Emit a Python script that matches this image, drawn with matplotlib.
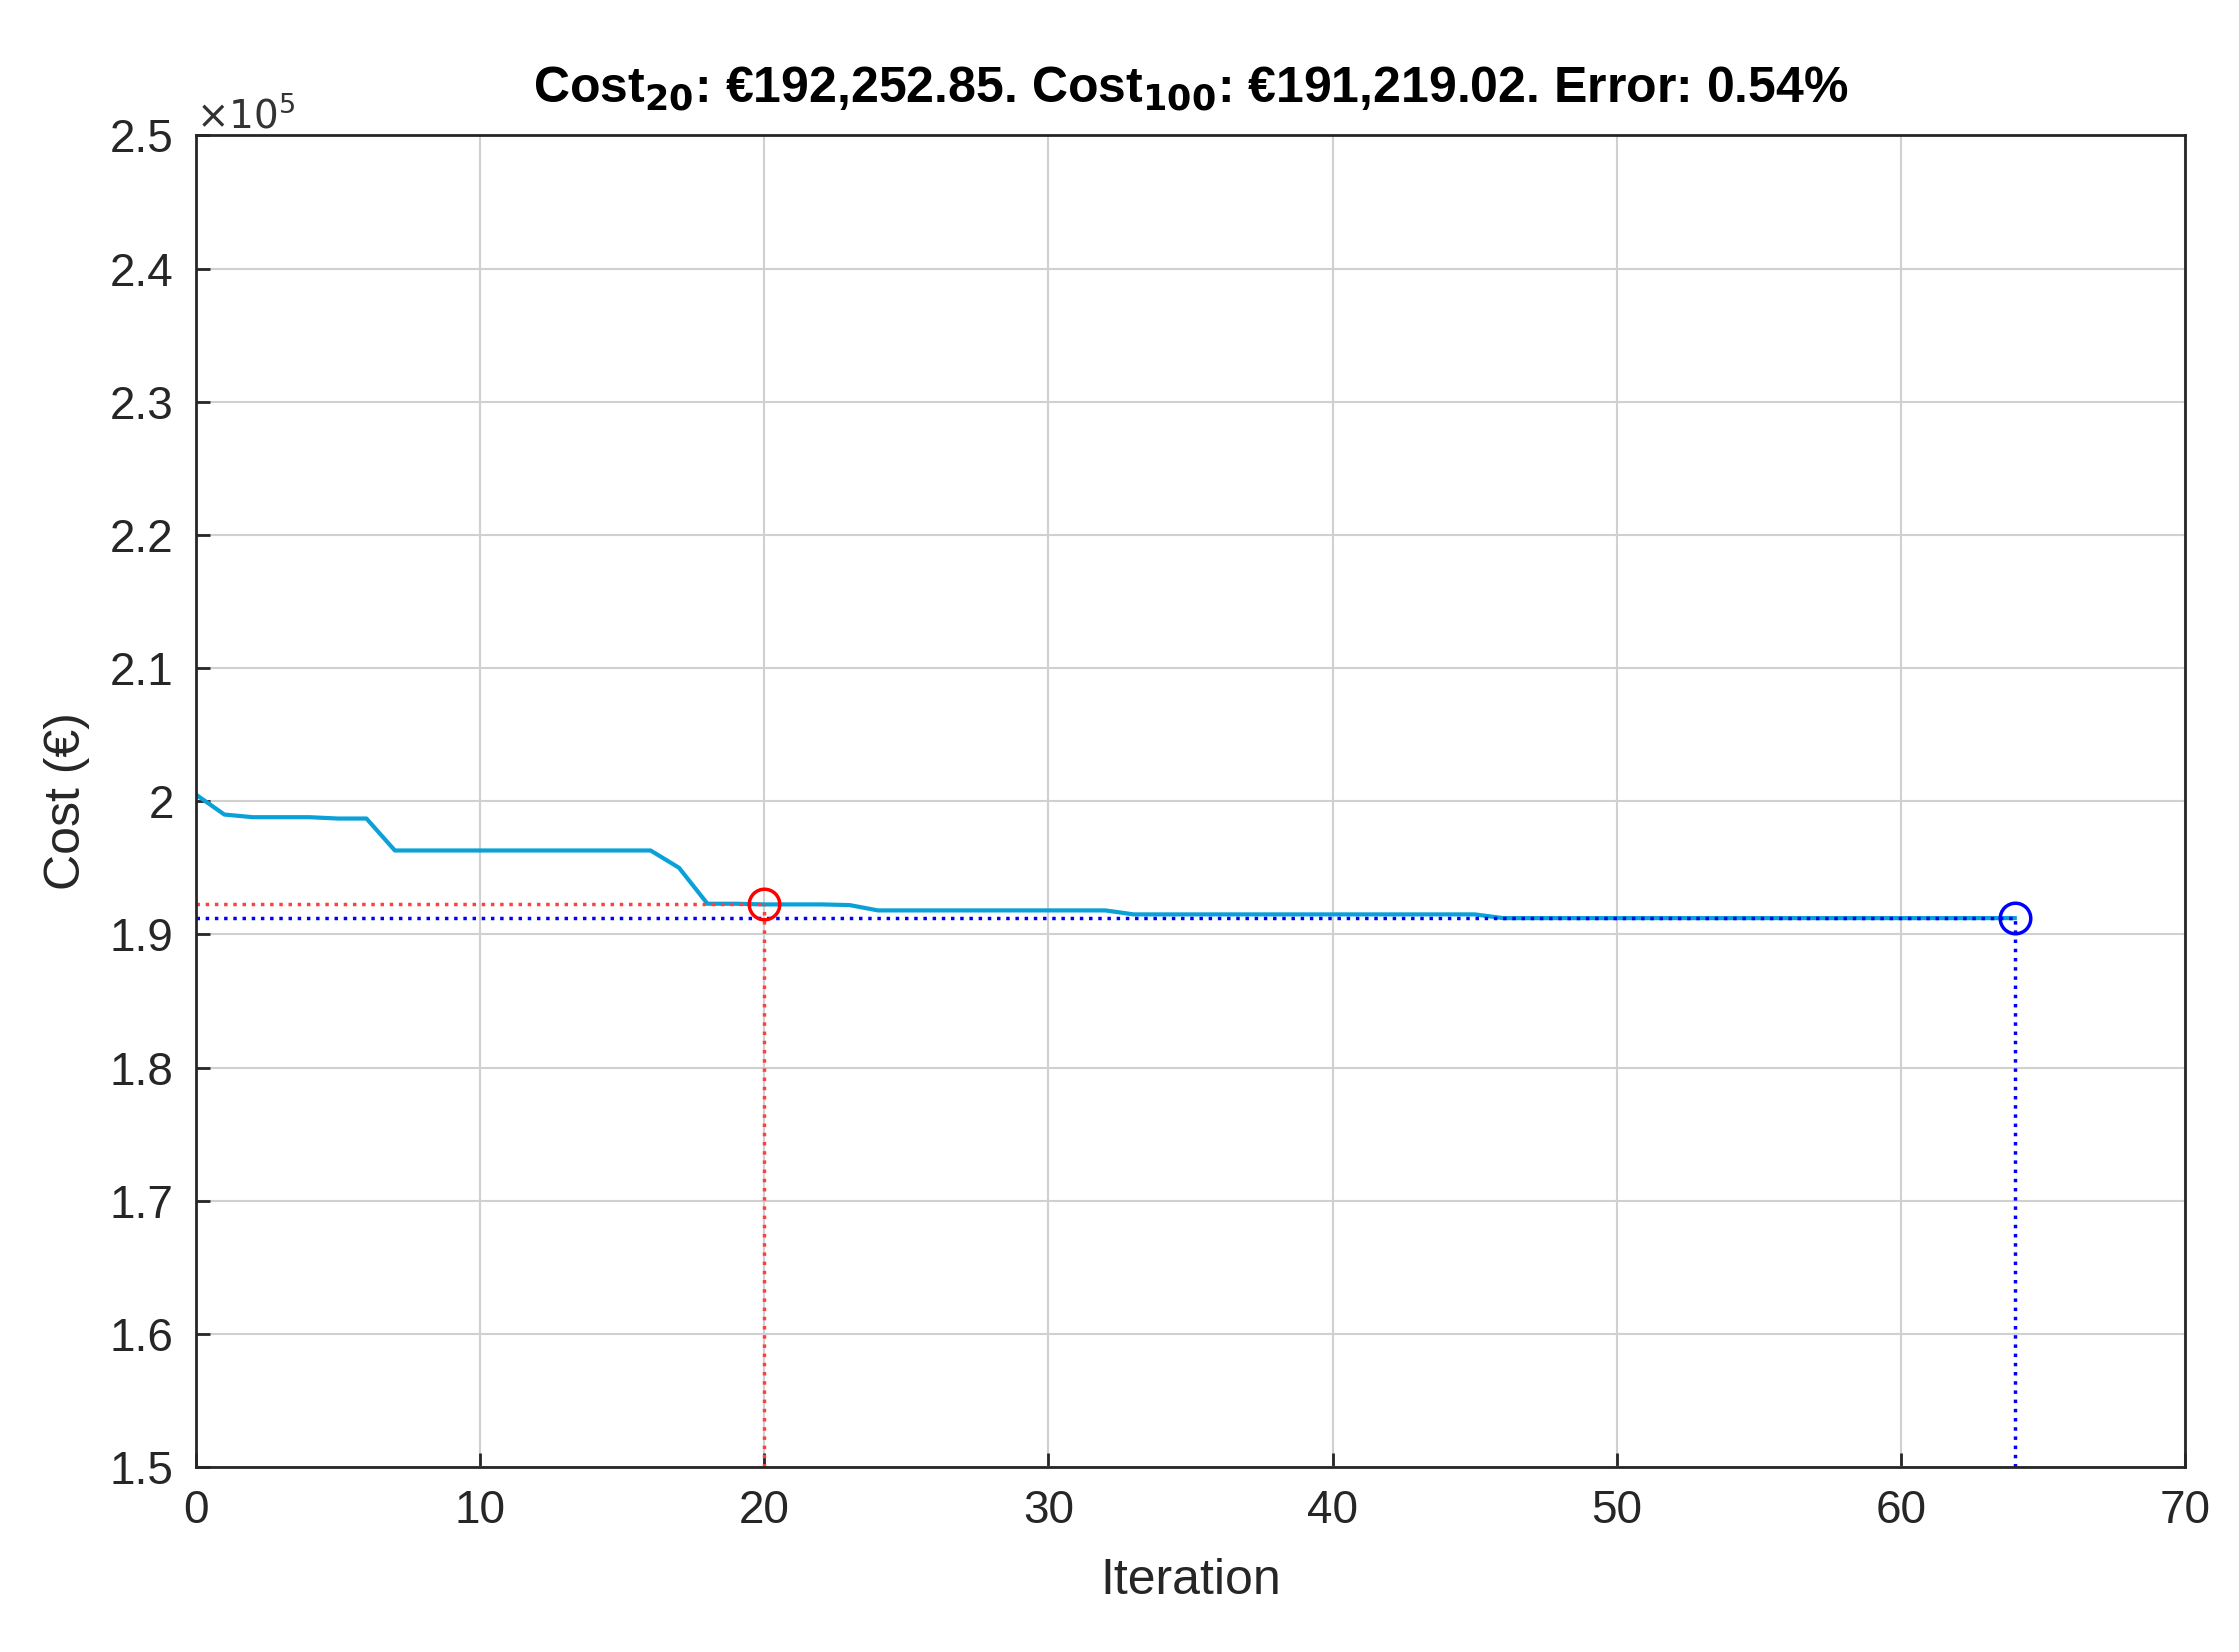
import matplotlib
matplotlib.use("Agg")
import matplotlib.pyplot as plt
import numpy as np

iterations = list(range(0, 65))
cost = ([2.005, 1.99, 1.988, 1.988, 1.988, 1.987, 1.987, 1.963, 1.963, 1.963, 1.963, 1.963, 1.963,
         1.963, 1.963, 1.963, 1.963, 1.950, 1.923, 1.923, 1.9225, 1.9225, 1.9225, 1.922]
        + [1.918]*9 + [1.915]*13 + [1.9122]*19)
cost = np.array(cost[:65]) * 1e5
x20, c20 = 20, 192252.85
x100, c100 = 64, 191219.02

plt.rcParams['font.family'] = ['Liberation Sans', 'DejaVu Sans']
fig = plt.figure(figsize=(22.39, 16.52), dpi=100)
ax = fig.add_axes([0.0875, 0.112, 0.8885, 0.806])
ax.plot(iterations, cost, color='#0aa0d8', lw=3)
ax.plot([0, x20], [c20, c20], ':', color='#ff4040', lw=2.5)
ax.plot([x20, x20], [1.5e5, c20], ':', color='#ff4040', lw=2.5)
ax.plot([0, x100], [c100, c100], ':', color='#0000ff', lw=2.5)
ax.plot([x100, x100], [1.5e5, c100], ':', color='#0000ff', lw=2.5)
ax.plot([x20], [c20], 'o', mfc='none', mec='red', ms=22, mew=2.5)
ax.plot([x100], [c100], 'o', mfc='none', mec='blue', ms=22, mew=2.5)
ax.set_xlim(0, 70)
ax.set_ylim(1.5e5, 2.5e5)
ax.set_xticks(range(0, 71, 10))
yt = np.arange(1.5, 2.51, 0.1)
ax.set_yticks(yt * 1e5)
ax.set_yticklabels([f"{v:g}" for v in yt])
ax.text(0, 1.0, r'$\times10^5$', transform=ax.transAxes, fontsize=28, color='#333333', va='bottom')
ax.grid(True, color='#d0d0d0', lw=1.5)
ax.tick_params(labelsize=33, colors='#262626', direction='in', length=10, width=2, pad=16)
for s in ax.spines.values():
    s.set_linewidth(2)
    s.set_color('#262626')
ax.set_xlabel('Iteration', fontsize=36, color='#262626', labelpad=18)
ax.set_ylabel('Cost (€)', fontsize=36, color='#262626', labelpad=14)
ax.set_title(r'Cost$_{\mathbf{20}}$: €192,252.85. Cost$_{\mathbf{100}}$: €191,219.02. Error: 0.54%',
             fontsize=36, fontweight='bold', pad=24)
fig.savefig('out.png', dpi=100)
